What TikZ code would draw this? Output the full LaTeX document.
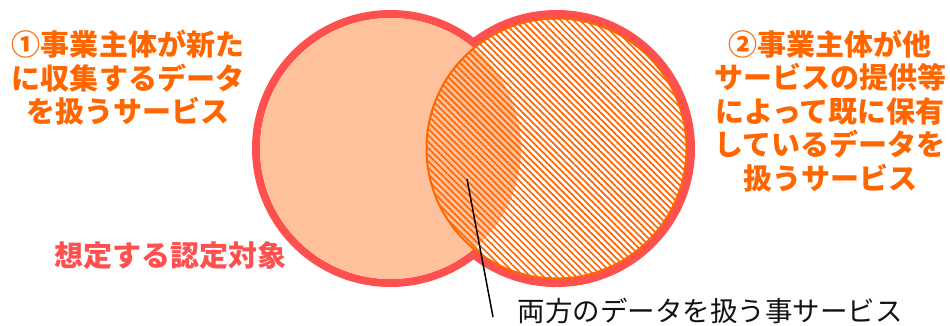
\documentclass[tikz,border=0pt]{standalone}
\usepackage{fontspec}
\newfontfamily\jp{Noto Sans CJK JP}
\usetikzlibrary{patterns.meta}
\definecolor{vred}{HTML}{FF5050}
\definecolor{peach}{HTML}{FFC19B}
\definecolor{vorange}{HTML}{FF6600}
\begin{document}
\begin{tikzpicture}[x=1pt,y=-1pt,
  redring/.style={draw=vred,line width=8pt},
  lbl/.style={font=\jp\bfseries\fontsize{29}{33.5}\selectfont,align=center,inner sep=0pt},
  plain/.style={font=\jp\fontsize{27.5}{33}\selectfont,inner sep=0pt,text=black!93},
  leader/.style={draw=black,line width=1.5pt},
]
\useasboundingbox (0,0) rectangle (950,325);
\coordinate (L) at (390.5,148.5);
\coordinate (R) at (556.5,148.5);
\draw[redring] (L) circle[radius=134.5];
\draw[redring] (R) circle[radius=134.5];
\fill[white] (R) circle[radius=130.5];
\fill[peach] (L) circle[radius=130.5];
\fill[pattern={Lines[angle=-45,distance=4.6pt,line width=1.7pt]},pattern color=vorange] (R) circle[radius=130.5];
\draw[vorange,line width=2pt] (R) circle[radius=130];
\node[lbl,text=vorange] (t1) at (128,78) {①事業主体が新た\\に収集するデータ\\を扱うサービス};
\node[lbl,text=vorange] (t2) at (830,111) {②事業主体が他\\サービスの提供等\\によって既に保有\\しているデータを\\扱うサービス};
\node[lbl,text=vred] (t3) at (170,256) {想定する認定対象};
\node[plain] (t4) at (710,310.5) {両方のデータを扱う事サービス};
\coordinate (p) at (467,179);
\coordinate (q) at (493,317);
\draw[leader] (p) -- (q);
\end{tikzpicture}
\end{document}
